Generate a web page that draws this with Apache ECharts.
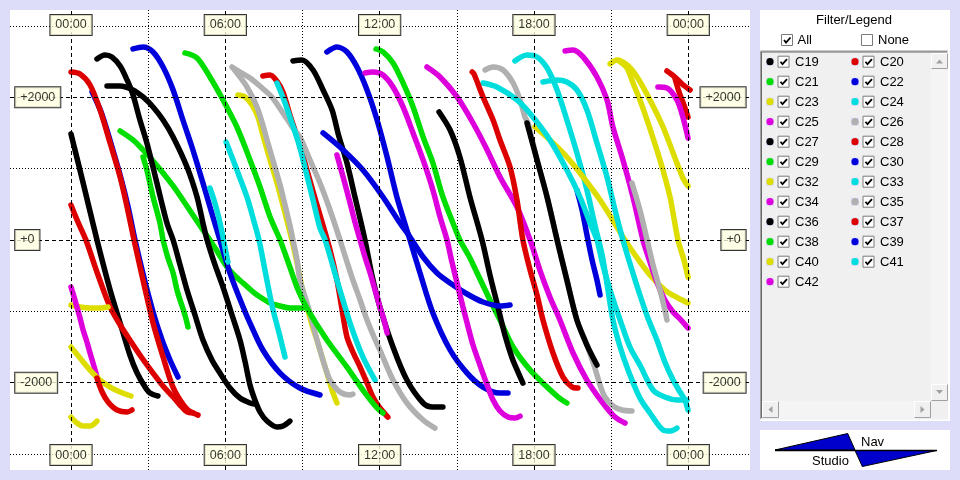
<!DOCTYPE html>
<html><head><meta charset="utf-8">
<script src="https://cdn.jsdelivr.net/npm/echarts@6/dist/echarts.min.js"></script>
<style>html,body{margin:0;padding:0;background:#DDDDFA;}#c{width:960px;height:480px;}</style>
</head><body><div id="c"></div>
<script>
// ---- axis ticks / labels ----
const timeTicks = [0, 6, 12, 18, 24];
const timeLabels = ['00:00', '06:00', '12:00', '18:00', '00:00'];
const minorTimeTicks = [3, 9, 15, 21];
const valueTicks = [2000, 0, -2000];
const valueLabels = ['+2000', '+0', '-2000'];
const minorValueTicks = [3000, 1000, -1000, -3000];
const xRange = [-2.372, 26.40];
const yRange = [-3224, 3224];

// ---- series (hours, value); each series = list of passes ----
const seriesNames = ['C19','C20','C21','C22','C23','C24','C25','C26','C27','C28','C29','C30','C32','C33','C34','C35','C36','C37','C38','C39','C40','C41','C42'];
const palette = ['#000000','#DD0000','#00DD00','#0000DD','#DDDD00','#00DDDD','#DD00DD','#B0B0B0'];

const C19 = [
 [[0,1486],[0.51,743],[1.01,0],[1.52,-701],[1.91,-1164],[2.29,-1612],[2.57,-1865],[2.88,-2061],[3.07,-2145],[3.38,-2187]],
 [[8.63,2510],[8.98,2524],[9.41,2383],[9.80,2103],[10.15,1823],[10.40,1472],[10.73,1080],[11.04,603],[11.43,0],[11.70,-491],[12.01,-939],[12.52,-1500],[13.06,-1963],[13.69,-2285],[14.07,-2341],[14.46,-2341]]
];
const C20 = [
 [[0,491],[0.27,252],[0.58,0],[1.05,-491],[1.52,-939],[1.91,-1192],[2.29,-1402],[2.76,-1654],[3.19,-1865],[3.58,-2047],[3.97,-2201],[4.24,-2313],[4.51,-2411],[4.74,-2425]],
 [[7.46,2299],[7.74,2313],[7.97,2243],[8.24,2075],[8.51,1753],[8.83,1402],[9.14,1023],[9.45,631],[9.76,252],[10.07,-140],[10.34,-561],[10.54,-981],[10.73,-1360],[10.96,-1570],[11.24,-1781],[11.51,-2005],[11.74,-2201],[12.01,-2355],[12.32,-2482]]
];
const C21 = [
 [[1.91,1528],[2.41,1402],[2.80,1262],[3.19,1108],[3.58,939],[3.97,757],[4.35,561],[4.74,351],[5.13,140],[5.40,0],[5.72,-182],[6.07,-379],[6.38,-505],[6.69,-603],[7.04,-715],[7.35,-799],[7.74,-883],[8.13,-925],[8.51,-953],[9.02,-953]],
 [[11.86,2678],[12.13,2636],[12.52,2482],[12.91,2201],[13.30,1865],[13.69,1444],[14.07,1080],[14.46,603],[14.85,238],[15.12,0],[15.51,-252],[15.79,-463],[16.29,-841],[16.68,-1122],[17.19,-1500],[17.85,-1823],[18.51,-2061],[18.94,-2201],[19.28,-2285]]
];
const C22 = [
 [[0.82,2075],[1.17,1795],[1.56,1346],[1.94,869],[2.22,463],[2.49,0],[2.84,-533],[3.19,-1009],[3.54,-1402],[3.85,-1682],[4.16,-1921]],
 [[19.67,701],[19.87,421],[20.06,70],[20.26,-280],[20.45,-561],[20.57,-771]]
];
const C23 = [
 [[0,-911],[0.35,-939],[0.74,-953],[1.13,-953],[1.44,-939]],
 [[6.49,2033],[6.77,2005],[7.04,1893],[7.27,1724],[7.46,1472],[7.74,1122],[8.01,799],[8.24,491],[8.44,210],[8.59,0],[8.79,-322],[8.98,-659],[9.18,-939],[9.37,-1192],[9.56,-1402],[9.76,-1640],[9.95,-1865],[10.15,-2103],[10.34,-2285]],
 [[20.96,2468],[21.23,2524],[21.62,2454],[22.01,2285],[22.51,1963],[23.02,1584],[23.41,1220],[23.79,869],[23.99,757]]
];
const C24 = [
 [[6.03,1374],[6.45,981],[6.84,603],[7.12,252],[7.31,0],[7.54,-421],[7.81,-911],[8.09,-1304],[8.32,-1640]],
 [[17.26,2510],[17.73,2594],[18.12,2566],[18.51,2411],[18.90,2103],[19.28,1682],[19.67,1220],[20.06,701],[20.37,210],[20.65,-210],[20.88,-701],[21.07,-1122],[21.35,-1500],[21.66,-1823],[22.12,-2215],[22.51,-2425],[23.02,-2664],[23.29,-2678],[23.56,-2636]]
];
const C25 = [
 [[0,-659],[0.12,-799],[0.23,-939],[0.35,-1094],[0.47,-1262],[0.62,-1430],[0.74,-1584],[0.89,-1767],[1.01,-1921]],
 [[13.84,2425],[14.35,2285],[15.01,2005],[15.63,1640],[16.18,1262],[16.68,883],[17.34,463],[17.85,0],[18.23,-421],[18.62,-799],[19.01,-1122],[19.52,-1584],[20.06,-1963],[20.68,-2285],[21.15,-2482],[21.54,-2566]]
];
const C26 = [
 [[6.26,2425],[6.57,2355],[6.96,2271],[7.43,2131],[7.81,2005],[8.24,1781],[8.63,1570],[8.90,1444],[9.29,1122],[9.68,799],[10.07,421],[10.46,0],[10.73,-308],[10.96,-561],[11.24,-841],[11.51,-1122],[11.78,-1360],[12.01,-1542],[12.52,-1963],[13.06,-2285],[13.69,-2524],[14.15,-2636]],
 [[16.10,2383],[16.41,2425],[16.80,2383],[17.19,2201],[17.46,1963],[17.65,1724],[17.77,1640],[18.12,1122],[18.51,603],[18.90,0],[19.28,-561],[19.67,-1122],[20.06,-1472],[20.37,-1795],[20.57,-2033],[20.76,-2201],[21.07,-2327],[21.42,-2383],[21.81,-2397]]
];
const C27 = [
 [[1.01,2538],[1.32,2594],[1.59,2566],[1.91,2439],[2.18,2243],[2.41,2033],[2.68,1682],[2.95,1360],[3.34,799],[3.73,238],[3.97,0],[4.24,-350],[4.51,-701],[4.82,-1051],[5.13,-1402],[5.48,-1682],[5.79,-1865],[6.18,-2075],[6.57,-2215],[6.96,-2285],[7.15,-2299]],
 [[14.31,1795],[14.74,1542],[15.12,1164],[15.51,603],[15.98,0],[16.29,-491],[16.60,-939],[16.87,-1332],[17.15,-1654],[17.38,-1851],[17.57,-2005]]
];
const C28 = [
 [[0,2355],[0.35,2327],[0.74,2173],[1.13,1823],[1.52,1360],[1.91,883],[2.18,463],[2.45,0],[2.80,-561],[3.19,-1164],[3.58,-1640],[3.93,-2033],[4.24,-2243],[4.55,-2383],[4.94,-2454]],
 [[23.17,2369],[23.48,2285],[23.76,2187],[24.07,2103]]
];
const C29 = [
 [[2.80,1164],[2.95,981],[3.19,603],[3.46,238],[3.58,0],[3.77,-252],[3.97,-463],[4.12,-701],[4.24,-841],[4.43,-1051],[4.55,-1220]]
];
const C30 = [
 [[2.41,2678],[2.80,2706],[3.19,2636],[3.58,2425],[3.97,2103],[4.35,1682],[4.74,1262],[5.13,799],[5.52,322],[5.79,0],[6.18,-463],[6.69,-939],[6.96,-1164],[7.46,-1542],[8.13,-1865],[8.90,-2075],[9.68,-2173]],
 [[9.80,1500],[10.58,1262],[11.35,981],[12.13,603],[12.79,238],[13.18,42],[13.69,-238],[14.23,-463],[14.74,-603],[15.40,-757],[16.02,-869],[16.68,-925],[17.07,-911]]
];
const C32 = [
 [[0,-1500],[0.35,-1654],[0.74,-1823],[1.13,-1963],[1.52,-2061],[1.91,-2131],[2.33,-2187]],
 [[18.04,1584],[18.62,1402],[19.28,1164],[19.91,883],[20.57,561],[21.23,182],[21.46,42],[21.93,-210],[22.51,-491],[23.09,-701],[23.60,-813],[23.99,-883]]
];
const C33 = [
 [[5.40,729],[5.56,561],[5.72,351],[5.87,112],[5.99,-112],[6.10,-308]],
 [[8.01,2201],[8.28,1963],[8.55,1682],[8.87,1332],[9.14,953],[9.41,561],[9.68,168],[9.88,0],[10.34,-561],[10.85,-1164],[11.35,-1640],[11.82,-1963]],
 [[16.02,2201],[16.56,2145],[17.34,1963],[17.96,1724],[18.62,1402],[19.28,981],[19.79,603],[20.18,238],[20.45,0],[20.68,-350],[20.96,-701],[21.35,-1122],[21.73,-1500],[22.12,-1753],[22.63,-2103],[23.09,-2201],[23.60,-2243],[23.95,-2243]]
];
const C34 = [
 [[10.34,1192],[10.58,883],[10.85,519],[11.04,252],[11.24,0],[11.43,-238],[11.63,-463],[11.82,-701],[12.01,-939],[12.17,-1122],[12.29,-1304]],
 [[19.21,2650],[19.52,2664],[19.91,2566],[20.45,2285],[20.84,1963],[21.07,1584],[21.46,1122],[21.85,603],[22.24,0],[22.51,-308],[22.78,-589],[23.09,-841],[23.41,-1009],[23.72,-1122],[23.99,-1234]]
];
const C35 = [
 [[6.30,2411],[6.57,2285],[6.84,2145],[7.23,1865],[7.46,1612],[7.62,1402],[7.85,1122],[8.13,771],[8.32,491],[8.51,210],[8.63,0],[8.79,-280],[8.90,-561],[9.10,-799],[9.29,-1023],[9.49,-1304],[9.68,-1542],[9.88,-1781],[10.07,-1963],[10.46,-2131],[10.85,-2173],[10.96,-2159]],
 [[21.81,799],[22.12,421],[22.40,0],[22.63,-350],[22.90,-701],[23.09,-981],[23.17,-1122]]
];
const C36 = [
 [[1.40,2159],[1.91,2159],[2.41,2103],[2.80,2005],[3.19,1865],[3.58,1682],[3.97,1444],[4.51,1023],[4.90,603],[5.13,238],[5.29,0],[5.60,-350],[5.91,-659],[6.26,-1051],[6.57,-1402],[6.77,-1710],[6.96,-2033],[7.15,-2243],[7.35,-2411],[7.62,-2538],[8.01,-2622],[8.24,-2608],[8.51,-2538]],
 [[17.73,1640],[18.12,1122],[18.51,603],[18.90,0],[19.28,-561],[19.67,-1122],[20.06,-1472],[20.45,-1753]]
];
const C37 = [
 [[1.01,-1935],[1.21,-2131],[1.44,-2271],[1.79,-2383],[2.18,-2411],[2.37,-2383]],
 [[15.60,2355],[15.67,2327],[16.02,2005],[16.41,1682],[16.68,1402],[17.07,1023],[17.34,561],[17.57,0],[17.85,-421],[18.12,-771],[18.35,-1122],[18.74,-1584],[19.13,-1921],[19.48,-2061],[19.71,-2075]],
 [[23.48,2271],[23.64,2075],[23.83,1893],[23.99,1724]]
];
const C38 = [
 [[4.43,2622],[4.90,2552],[5.40,2285],[5.91,1963],[6.45,1584],[6.96,1122],[7.35,743],[7.74,322],[8.13,0],[8.51,-379],[8.83,-701],[9.21,-981],[9.95,-1402],[10.73,-1781],[11.35,-2103],[11.90,-2355],[12.13,-2425]]
];
const C39 = [
 [[9.95,2636],[10.34,2706],[10.73,2636],[11.12,2425],[11.51,2103],[11.90,1682],[12.29,1164],[12.67,603],[13.18,0],[13.57,-463],[14.07,-1023],[14.74,-1542],[15.40,-1865],[16.02,-2061],[16.68,-2145],[16.99,-2145]]
];
const C40 = [
 [[0,-2482],[0.23,-2566],[0.47,-2608],[0.74,-2608],[1.01,-2538]],
 [[21.35,2496],[21.62,2411],[21.85,2201],[22.12,1963],[22.40,1682],[22.90,1122],[23.29,603],[23.60,0],[23.83,-280],[23.99,-519]]
];
const C41 = [
 [[18.35,2215],[18.90,2243],[19.28,2215],[19.67,2103],[20.06,1823],[20.45,1360],[20.84,883],[21.15,421],[21.46,0],[21.81,-421],[22.12,-771],[22.43,-1094],[22.78,-1402],[23.09,-1710],[23.41,-1963],[23.68,-2131],[23.87,-2243],[23.99,-2383]]
];
const C42 = [
 [[11.43,2341],[11.74,2355],[12.13,2313],[12.52,2145],[12.91,1865],[13.30,1500],[13.69,1122],[14.07,701],[14.35,322],[14.62,0],[14.81,-308],[15.01,-603],[15.20,-883],[15.40,-1164],[15.63,-1472],[15.90,-1753],[16.18,-2033],[16.41,-2243],[16.68,-2397],[16.99,-2482],[17.26,-2496],[17.46,-2468]],
 [[22.82,2145],[23.17,2131],[23.56,1963],[23.79,1724],[23.99,1430]]
];
const seriesData = {C19,C20,C21,C22,C23,C24,C25,C26,C27,C28,C29,C30,C32,C33,C34,C35,C36,C37,C38,C39,C40,C41,C42};

// ---- build ----
const FONT = '"Liberation Sans", Arial, sans-serif';
const chart = echarts.init(document.getElementById('c'), null, {renderer: 'canvas'});
const series = [];

const dashMajor = [4, 3], dotMinor = [1, 2];
const ml = [];
timeTicks.forEach(t => ml.push({xAxis: t, lineStyle: {color: '#000', width: 1, type: dashMajor}}));
minorTimeTicks.forEach(t => ml.push({xAxis: t, lineStyle: {color: '#000', width: 1, type: dotMinor}}));
valueTicks.forEach(v => ml.push({yAxis: v, lineStyle: {color: '#000', width: 1, type: dashMajor}}));
minorValueTicks.forEach(v => ml.push({yAxis: v, lineStyle: {color: '#000', width: 1, type: dotMinor}}));
series.push({type: 'line', name: 'grid', data: [], z: 1, silent: true, animation: false,
  markLine: {symbol: ['none', 'none'], silent: true, animation: false, label: {show: false}, emphasis: {disabled: true}, data: ml}});

seriesNames.forEach((name, i) => {
  const color = palette[i % palette.length];
  seriesData[name].forEach(seg => {
    series.push({type: 'line', name, data: seg, symbol: 'none', showSymbol: false, smooth: 0.3,
      z: 2, silent: true, animation: false, clip: true,
      lineStyle: {color, width: 5.5, cap: 'round', join: 'round'}, itemStyle: {color}});
  });
});

const labelStyle = {show: true, color: '#000', fontSize: 12.5, fontFamily: FONT, backgroundColor: '#FFFFE1',
  borderColor: '#000', borderWidth: 1, padding: [3, 5, 2, 5], lineHeight: 15, distance: 0};
const labelData = [];
const labelRow = 3015;
timeTicks.forEach((t, i) => {
  labelData.push({value: [t, labelRow], label: Object.assign({}, labelStyle, {position: 'inside', formatter: timeLabels[i]})});
  labelData.push({value: [t, -labelRow], label: Object.assign({}, labelStyle, {position: 'inside', formatter: timeLabels[i]})});
});
valueTicks.forEach((v, i) => {
  labelData.push({value: [-2.17, v], label: Object.assign({}, labelStyle, {position: 'right', formatter: valueLabels[i]})});
  labelData.push({value: [26.23, v], label: Object.assign({}, labelStyle, {position: 'left', formatter: valueLabels[i]})});
});
series.push({type: 'scatter', name: 'labels', data: labelData, symbolSize: 0, z: 5, silent: true, animation: false,
  itemStyle: {color: 'rgba(0,0,0,0)'}, labelLayout: {hideOverlap: false}});

// ---- legend panel (graphic) ----
const g = [];
function txt(x, y, s, size, align) {
  return {type: 'text', x, y, silent: true, style: {text: s, fill: '#000', font: size + 'px ' + FONT,
    align: align || 'left', verticalAlign: 'middle', textAlign: align || 'left', textVerticalAlign: 'middle'}};
}
function checkbox(x, y, checked) {
  g.push({type: 'rect', silent: true, shape: {x: x + 0.5, y: y + 0.5, width: 11, height: 11}, style: {fill: '#fff', stroke: '#7A7A7A', lineWidth: 1}});
  if (checked) g.push({type: 'polyline', silent: true, shape: {points: [[x + 3, y + 6], [x + 5, y + 8.5], [x + 9.5, y + 3.5]]}, style: {stroke: '#000', lineWidth: 1.8, fill: null}});
}
function button(x, y, w, h) {
  g.push({type: 'rect', silent: true, shape: {x, y, width: w, height: h}, style: {fill: '#F0F0F0'}});
  g.push({type: 'polyline', silent: true, shape: {points: [[x + 0.5, y + h - 0.5], [x + 0.5, y + 0.5], [x + w - 0.5, y + 0.5]]}, style: {stroke: '#fff', lineWidth: 1, fill: null}});
  g.push({type: 'polyline', silent: true, shape: {points: [[x + 0.5, y + h - 0.5], [x + w - 0.5, y + h - 0.5], [x + w - 0.5, y + 0.5]]}, style: {stroke: '#A0A0A0', lineWidth: 1, fill: null}});
}
g.push({type: 'rect', silent: true, shape: {x: 760, y: 10, width: 190, height: 411}, style: {fill: '#fff'}});
g.push(txt(854, 20.5, 'Filter/Legend', 13, 'center'));
checkbox(781, 34, true); g.push(txt(797.5, 40, 'All', 13));
checkbox(861, 34, false); g.push(txt(878, 40, 'None', 13));
// list box
g.push({type: 'rect', silent: true, shape: {x: 760, y: 50.5, width: 188, height: 369}, style: {fill: '#F0F0F0'}});
g.push({type: 'polyline', silent: true, shape: {points: [[760.5, 419], [760.5, 51], [948, 51]]}, style: {stroke: '#A0A0A0', lineWidth: 1, fill: null}});
g.push({type: 'polyline', silent: true, shape: {points: [[761.5, 418], [761.5, 52], [947, 52]]}, style: {stroke: '#696969', lineWidth: 1, fill: null}});
// scrollbars
g.push({type: 'rect', silent: true, shape: {x: 931, y: 53, width: 17, height: 348}, style: {fill: '#F4F4F4'}});
g.push({type: 'rect', silent: true, shape: {x: 762, y: 401, width: 169, height: 17}, style: {fill: '#F4F4F4'}});
button(931, 53, 17, 16); button(931, 384, 17, 17);
button(762, 401, 17, 17); button(914, 401, 17, 17);
g.push({type: 'rect', silent: true, shape: {x: 931, y: 401, width: 17, height: 17}, style: {fill: '#F0F0F0'}});
g.push({type: 'polygon', silent: true, shape: {points: [[936, 63.5], [943, 63.5], [939.5, 59.5]]}, style: {fill: '#A0A0A0'}});
g.push({type: 'polygon', silent: true, shape: {points: [[936, 390], [943, 390], [939.5, 394]]}, style: {fill: '#A0A0A0'}});
g.push({type: 'polygon', silent: true, shape: {points: [[772.5, 406], [772.5, 413], [768.5, 409.5]]}, style: {fill: '#A0A0A0'}});
g.push({type: 'polygon', silent: true, shape: {points: [[920.5, 406], [920.5, 413], [924.5, 409.5]]}, style: {fill: '#A0A0A0'}});
// items
seriesNames.forEach((name, k) => {
  const col = k % 2, row = Math.floor(k / 2);
  const cy = 61.7 + row * 20, dx = col * 85;
  g.push({type: 'rect', silent: true, shape: {x: 766 + dx, y: cy - 4, width: 8, height: 8}, style: {fill: '#DCDCF6'}});
  g.push({type: 'circle', silent: true, shape: {cx: 770 + dx, cy: cy, r: 3.6}, style: {fill: palette[k % palette.length]}});
  checkbox(777.5 + dx, cy - 6, true);
  g.push(txt(795 + dx, cy + 0.5, name, 13));
});
// logo
g.push({type: 'rect', silent: true, shape: {x: 760, y: 430, width: 190, height: 40}, style: {fill: '#fff'}});
g.push({type: 'polygon', silent: true, shape: {points: [[775, 450], [847.7, 433.5], [855, 450]]}, style: {fill: '#0000CC', stroke: '#000', lineWidth: 1}});
g.push({type: 'polygon', silent: true, shape: {points: [[855, 450.5], [862.3, 466.5], [936.7, 450.5]]}, style: {fill: '#0000CC', stroke: '#000', lineWidth: 1}});
g.push({type: 'line', silent: true, shape: {x1: 775, y1: 450.5, x2: 937, y2: 450.5}, style: {stroke: '#000', lineWidth: 1.5}});
g.push(txt(861, 442, 'Nav', 13));
g.push(txt(812, 461, 'Studio', 13));

chart.setOption({
  animation: false,
  backgroundColor: '#DDDDFA',
  grid: {left: 10, top: 10, width: 740, height: 460, show: true, backgroundColor: '#FFFFFF', borderWidth: 0},
  xAxis: {type: 'value', min: xRange[0], max: xRange[1], show: false},
  yAxis: {type: 'value', min: yRange[0], max: yRange[1], show: false},
  series,
  graphic: {elements: g}
});
</script></body></html>
